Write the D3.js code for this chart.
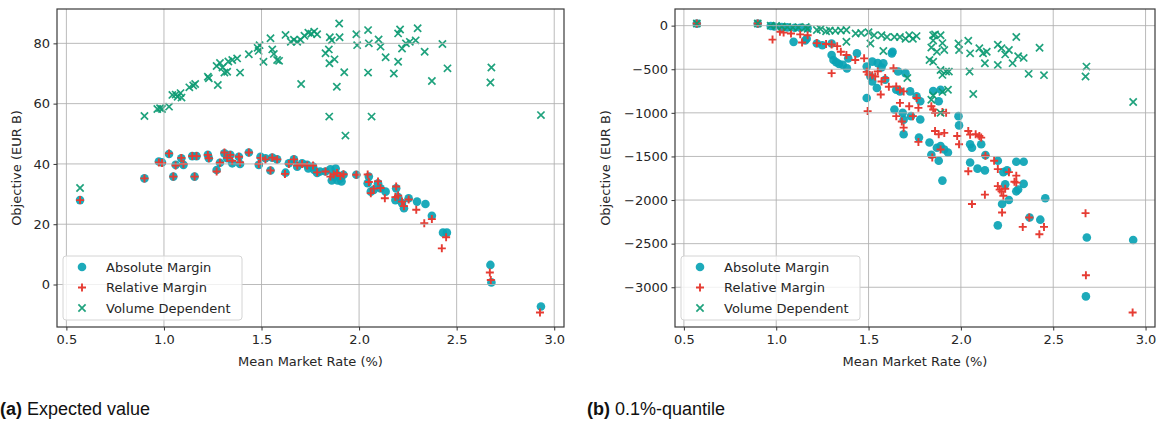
<!DOCTYPE html>
<html>
<head>
<meta charset="utf-8">
<script src="https://cdn.jsdelivr.net/npm/d3@7"></script>
<style>
  body { margin: 0; background: #fff; }
  svg { display: block; font-family: "DejaVu Sans", sans-serif; }
  .tick text { fill: #262626; font-size: 13px; font-family: "DejaVu Sans", sans-serif; }
  .tick line { stroke: #333; }
  .axis-label { fill: #262626; font-size: 13px; }
  .legend-text { fill: #262626; font-size: 13px; }
  .caption { font-family: "Liberation Sans", Arial, sans-serif; font-size: 18px; fill: #111; }
</style>
</head>
<body>
<script>
// tick labels
const rateTicks = [0.5, 1.0, 1.5, 2.0, 2.5, 3.0];
const evTicks = [0, 20, 40, 60, 80];
const quantileTicks = [0, -500, -1000, -1500, -2000, -2500, -3000];
const seriesNames = ["Absolute Margin", "Relative Margin", "Volume Dependent"];

// (a) expected value, [mean market rate %, objective EUR B]
const absoluteEV = [[0.57,28],[0.90,35.2],[0.974,40.8],[0.99,40.5],[1.026,43.3],[1.048,35.8],[1.06,39.7],[1.089,41.9],[1.10,39.7],[1.145,42.6],[1.167,42.6],[1.157,35.8],[1.225,43],[1.23,41.9],[1.27,38],[1.287,40.4],[1.31,43.5],[1.324,41.9],[1.34,43],[1.35,40.2],[1.384,42.4],[1.39,40],[1.435,43.8],[1.486,39.7],[1.495,42.4],[1.52,41.9],[1.546,37.8],[1.555,42.1],[1.58,41.5],[1.623,37.1],[1.64,40.2],[1.666,41.5],[1.683,39.1],[1.708,40.2],[1.734,39.7],[1.74,38.5],[1.764,39.1],[1.77,38],[1.785,37],[1.80,37.5],[1.828,37.5],[1.853,38.2],[1.86,34.5],[1.87,35.8],[1.88,38.5],[1.887,36.4],[1.89,34.5],[1.904,35.2],[1.91,34.2],[1.92,36.4],[1.986,36.4],[2.044,33.6],[2.05,35.8],[2.06,30.8],[2.075,31.4],[2.097,33.6],[2.11,31.9],[2.136,30.8],[2.186,28],[2.19,31.9],[2.20,29],[2.22,27],[2.23,25.3],[2.254,28.6],[2.297,27.5],[2.34,26.7],[2.373,22.8],[2.43,17.2],[2.45,17.2],[2.673,6.5],[2.678,0.7],[2.932,-7.3]];
const relativeEV = [[0.57,28],[0.90,35.2],[0.974,40.5],[0.99,40.3],[1.026,43.5],[1.048,35.8],[1.06,39.5],[1.089,42],[1.10,40],[1.145,42.6],[1.167,42.6],[1.157,35.8],[1.225,43],[1.23,41.9],[1.27,37.5],[1.287,40.4],[1.31,43.8],[1.324,42],[1.34,43],[1.35,41],[1.384,42.4],[1.39,40.5],[1.435,43.8],[1.486,40],[1.495,42],[1.52,41.5],[1.546,37.8],[1.555,42.1],[1.58,41.5],[1.62,36.7],[1.64,40],[1.666,41.5],[1.683,39.5],[1.708,40],[1.734,39.5],[1.764,39.5],[1.785,37.2],[1.828,37.5],[1.853,35.8],[1.87,36.5],[1.887,37],[1.904,36],[1.92,36.6],[1.986,36.4],[2.044,36.5],[2.05,34],[2.06,30.3],[2.075,31.8],[2.097,34.2],[2.11,32],[2.132,28.6],[2.186,29],[2.19,32.5],[2.20,29.5],[2.22,27.5],[2.23,26],[2.254,28.2],[2.293,24.8],[2.334,20.3],[2.373,21.7],[2.424,12.0],[2.446,15.7],[2.67,4],[2.675,1.5],[2.927,-9.3]];
const volumeEV = [[0.57,32],[0.90,55.9],[0.966,58.2],[0.98,58.5],[0.99,58.2],[1.026,59],[1.043,62.9],[1.06,63],[1.07,62.3],[1.085,63.5],[1.09,62],[1.13,65.4],[1.15,66],[1.16,66.5],[1.225,68.9],[1.23,68.4],[1.276,66.2],[1.27,72.5],[1.287,73.5],[1.30,72],[1.31,70.3],[1.324,70.6],[1.33,74],[1.35,74.5],[1.375,75],[1.39,70.3],[1.435,76.4],[1.48,78.5],[1.49,79.4],[1.485,77.5],[1.51,73.9],[1.546,81.7],[1.555,78],[1.563,76.5],[1.58,74.5],[1.59,74.2],[1.623,82.8],[1.65,80.5],[1.666,81.2],[1.683,80.5],[1.70,81.2],[1.703,66.5],[1.72,82.5],[1.74,83.5],[1.755,83.2],[1.77,83.9],[1.785,83],[1.828,76.7],[1.845,78],[1.848,73.4],[1.847,55.7],[1.85,82],[1.86,81],[1.874,74.7],[1.886,65.6],[1.898,86.6],[1.90,82],[1.924,70.4],[1.93,49.4],[1.986,83],[1.99,79.4],[2.046,84.4],[2.05,80],[2.046,70.3],[2.064,55.7],[2.10,81.3],[2.11,78.9],[2.136,75.4],[2.178,70],[2.20,83.3],[2.21,84.6],[2.20,73.9],[2.22,78.3],[2.24,80],[2.26,80.5],[2.29,81],[2.30,85],[2.336,77.2],[2.373,67.5],[2.427,79.8],[2.453,71.7],[2.673,67],[2.678,72],[2.932,56.2]];

// (b) 0.1%-quantile
const absoluteQ = [[0.57,23],[0.90,23],[0.97,-5],[0.99,-10],[1.03,-15],[1.06,-20],[1.10,-25],[1.13,-25],[1.17,-30],[1.094,-186],[1.157,-170],[1.165,-150],[1.22,-205],[1.25,-225],[1.30,-205],[1.31,-394],[1.325,-420],[1.34,-440],[1.36,-450],[1.30,-337],[1.383,-490],[1.39,-375],[1.437,-318],[1.49,-470],[1.52,-413],[1.55,-430],[1.58,-432],[1.626,-318],[1.63,-300],[1.49,-830],[1.51,-583],[1.52,-640],[1.545,-716],[1.59,-620],[1.57,-480],[1.66,-526],[1.70,-545],[1.65,-735],[1.67,-754],[1.725,-754],[1.76,-810],[1.78,-867],[1.64,-962],[1.685,-1000],[1.69,-1080],[1.69,-1246],[1.773,-1284],[1.85,-750],[1.89,-735],[1.88,-867],[1.73,-1038],[1.78,-1076],[1.83,-1340],[1.87,-1400],[1.89,-1380],[1.91,-1420],[1.93,-1455],[1.88,-1550],[1.84,-1480],[1.90,-1777],[1.987,-1038],[1.99,-1144],[2.05,-1360],[2.06,-1400],[2.11,-1360],[2.133,-1485],[2.05,-1570],[2.09,-1640],[2.13,-1660],[2.20,-1550],[2.23,-1680],[2.25,-1660],[2.30,-1560],[2.34,-1560],[2.30,-1900],[2.24,-1820],[2.34,-1815],[2.31,-1880],[2.223,-2046],[2.26,-2000],[2.457,-1980],[2.20,-2290],[2.372,-2200],[2.43,-2225],[2.682,-2430],[2.933,-2458],[2.677,-3105]];
const relativeQ = [[0.57,25],[0.90,25],[0.98,-160],[1.02,-70],[1.04,-80],[1.08,-90],[1.13,-100],[1.17,-110],[1.14,-193],[1.22,-200],[1.27,-210],[1.30,-215],[1.33,-235],[1.30,-545],[1.35,-300],[1.38,-337],[1.428,-394],[1.476,-375],[1.49,-530],[1.50,-560],[1.52,-570],[1.536,-583],[1.495,-980],[1.55,-525],[1.57,-640],[1.566,-790],[1.59,-600],[1.61,-700],[1.635,-489],[1.65,-697],[1.67,-735],[1.69,-754],[1.67,-886],[1.72,-924],[1.74,-1038],[1.76,-830],[1.77,-943],[1.65,-1038],[1.68,-1100],[1.69,-1170],[1.77,-1333],[1.84,-924],[1.85,-962],[1.86,-1000],[1.90,-990],[1.92,-1000],[1.86,-1208],[1.88,-1246],[1.91,-1230],[1.845,-1511],[1.89,-1420],[1.98,-1265],[1.99,-1360],[2.04,-1208],[2.05,-1250],[2.08,-1246],[2.10,-1265],[2.11,-1284],[2.04,-1670],[2.133,-1492],[2.06,-2046],[2.13,-1938],[2.18,-1550],[2.20,-1645],[2.26,-1680],[2.30,-1720],[2.29,-1790],[2.30,-1800],[2.20,-1840],[2.21,-1880],[2.22,-1900],[2.23,-1950],[2.24,-1870],[2.223,-2142],[2.335,-2308],[2.37,-2200],[2.45,-2308],[2.425,-2393],[2.675,-2150],[2.677,-2862],[2.93,-3290]];
const volumeQ = [[0.57,25],[0.90,25],[0.97,0],[1.00,-5],[1.03,-10],[1.06,-15],[1.09,-20],[1.12,-20],[1.16,-15],[1.17,-35],[1.22,-50],[1.24,-40],[1.27,-65],[1.29,-55],[1.32,-60],[1.35,-55],[1.38,-50],[1.38,-185],[1.43,-90],[1.46,-85],[1.50,-75],[1.51,-205],[1.53,-110],[1.57,-110],[1.58,-290],[1.60,-130],[1.64,-130],[1.67,-130],[1.70,-150],[1.72,-110],[1.74,-150],[1.76,-120],[1.71,-600],[1.85,-110],[1.85,-170],[1.86,-100],[1.89,-110],[1.90,-200],[1.91,-280],[1.87,-300],[1.83,-394],[1.85,-413],[1.84,-250],[1.89,-508],[1.92,-526],[1.935,-527],[1.90,-565],[1.987,-205],[1.99,-280],[2.04,-174],[2.05,-318],[2.047,-526],[2.067,-784],[2.10,-260],[2.12,-318],[2.14,-300],[2.13,-432],[1.93,-735],[1.90,-760],[1.85,-800],[1.84,-850],[1.89,-1000],[2.20,-220],[2.22,-260],[2.24,-330],[2.26,-280],[2.28,-430],[2.30,-130],[2.31,-350],[2.34,-370],[2.20,-450],[2.426,-254],[2.367,-553],[2.45,-568],[2.68,-470],[2.675,-583],[2.933,-875]];

const colors = { abs: "#0aa3b4", rel: "#e63c33", vol: "#0c9a72" };

const width = 1157, height = 421;
const svg = d3.select("body").append("svg")
    .attr("width", width)
    .attr("height", height);

function minusFmt(d) {
    return d < 0 ? "\u2212" + Math.abs(d) : String(d);
}

function padded(values) {
    const [lo, hi] = d3.extent(values);
    const pad = (hi - lo) * 0.05;
    return [lo - pad, hi + pad];
}

function drawPanel(cfg) {
    const allPts = cfg.series.flatMap(s => s.data);
    const x = d3.scaleLinear().domain(padded(allPts.map(p => p[0]))).range([cfg.x0, cfg.x1]);
    const y = d3.scaleLinear().domain(padded(allPts.map(p => p[1]))).range([cfg.y1, cfg.y0]);

    const g = svg.append("g");

    // markers
    cfg.series.forEach(s => drawMarkers(g, s.data, s.kind, x, y));

    // grid (matplotlib puts it above the scatter)
    g.append("g").selectAll("line").data(rateTicks).enter().append("line")
        .attr("x1", d => x(d)).attr("x2", d => x(d))
        .attr("y1", cfg.y0).attr("y2", cfg.y1)
        .attr("stroke", "#b0b0b0").attr("stroke-width", 1).attr("opacity", 0.85);
    g.append("g").selectAll("line").data(cfg.yTicks).enter().append("line")
        .attr("y1", d => y(d)).attr("y2", d => y(d))
        .attr("x1", cfg.x0).attr("x2", cfg.x1)
        .attr("stroke", "#b0b0b0").attr("stroke-width", 1).attr("opacity", 0.85);

    // axes
    g.append("g")
        .attr("transform", `translate(0,${cfg.y1})`)
        .call(d3.axisBottom(x).tickValues(rateTicks).tickFormat(d3.format(".1f"))
              .tickSize(3.5).tickPadding(4.5).tickSizeOuter(0))
        .attr("font-family", null).attr("font-size", null)
        .call(a => a.select(".domain").remove());
    g.append("g")
        .attr("transform", `translate(${cfg.x0},0)`)
        .call(d3.axisLeft(y).tickValues(cfg.yTicks).tickFormat(minusFmt)
              .tickSize(3.5).tickPadding(3.5).tickSizeOuter(0))
        .attr("font-family", null).attr("font-size", null)
        .call(a => a.select(".domain").remove());

    // frame
    g.append("rect")
        .attr("x", cfg.x0).attr("y", cfg.y0)
        .attr("width", cfg.x1 - cfg.x0).attr("height", cfg.y1 - cfg.y0)
        .attr("fill", "none").attr("stroke", "#3a3a3a").attr("stroke-width", 1.2);

    // labels
    g.append("text").attr("class", "axis-label")
        .attr("x", (cfg.x0 + cfg.x1) / 2).attr("y", 366)
        .attr("text-anchor", "middle").text("Mean Market Rate (%)");
    g.append("text").attr("class", "axis-label")
        .attr("transform", `translate(${cfg.yLabelX},${(cfg.y0 + cfg.y1) / 2}) rotate(-90)`)
        .attr("text-anchor", "middle").text("Objective (EUR B)");

    // legend
    const lx = cfg.x0 + 6, ly = 256;
    const leg = g.append("g").attr("transform", `translate(${lx},${ly})`);
    leg.append("rect").attr("width", 179).attr("height", 64).attr("rx", 3)
        .attr("fill", "#fff").attr("fill-opacity", 0.8)
        .attr("stroke", "#d4d4d4").attr("stroke-width", 1);
    const kinds = ["abs", "rel", "vol"];
    kinds.forEach((k, i) => {
        const cy = 11 + i * 20.5;
        drawMarkers(leg, [[0, 0]], k, () => 19, () => cy);
        leg.append("text").attr("class", "legend-text")
            .attr("x", 43).attr("y", cy + 4.5).text(seriesNames[i]);
    });

    // caption
    const cap = svg.append("text").attr("class", "caption")
        .attr("x", cfg.capX).attr("y", 415);
    cap.append("tspan").attr("font-weight", "bold").text(cfg.capTag);
    cap.append("tspan").text(" " + cfg.capText);
}

function drawMarkers(g, data, kind, x, y) {
    if (kind === "abs") {
        g.append("g").selectAll("circle").data(data).enter().append("circle")
            .attr("cx", d => x(d[0])).attr("cy", d => y(d[1]))
            .attr("r", 4.3).attr("fill", colors.abs).attr("fill-opacity", 0.92);
    } else if (kind === "rel") {
        const s = 4;
        g.append("g").selectAll("path").data(data).enter().append("path")
            .attr("d", d => `M${x(d[0]) - s},${y(d[1])}H${x(d[0]) + s}M${x(d[0])},${y(d[1]) - s}V${y(d[1]) + s}`)
            .attr("stroke", colors.rel).attr("stroke-width", 1.9).attr("fill", "none");
    } else {
        const s = 3.6;
        g.append("g").selectAll("path").data(data).enter().append("path")
            .attr("d", d => {
                const cx = x(d[0]), cy = y(d[1]);
                return `M${cx - s},${cy - s}L${cx + s},${cy + s}M${cx - s},${cy + s}L${cx + s},${cy - s}`;
            })
            .attr("stroke", colors.vol).attr("stroke-width", 1.7).attr("fill", "none")
            .attr("stroke-opacity", 0.92);
    }
}

drawPanel({
    x0: 57, x1: 564, y0: 9, y1: 327, yLabelX: 21,
    yTicks: evTicks,
    series: [{ data: absoluteEV, kind: "abs" }, { data: relativeEV, kind: "rel" }, { data: volumeEV, kind: "vol" }],
    capX: 0, capTag: "(a)", capText: "Expected value"
});
drawPanel({
    x0: 675, x1: 1155, y0: 9, y1: 327, yLabelX: 610,
    yTicks: quantileTicks,
    series: [{ data: absoluteQ, kind: "abs" }, { data: relativeQ, kind: "rel" }, { data: volumeQ, kind: "vol" }],
    capX: 587, capTag: "(b)", capText: "0.1%-quantile"
});
</script>
</body>
</html>
